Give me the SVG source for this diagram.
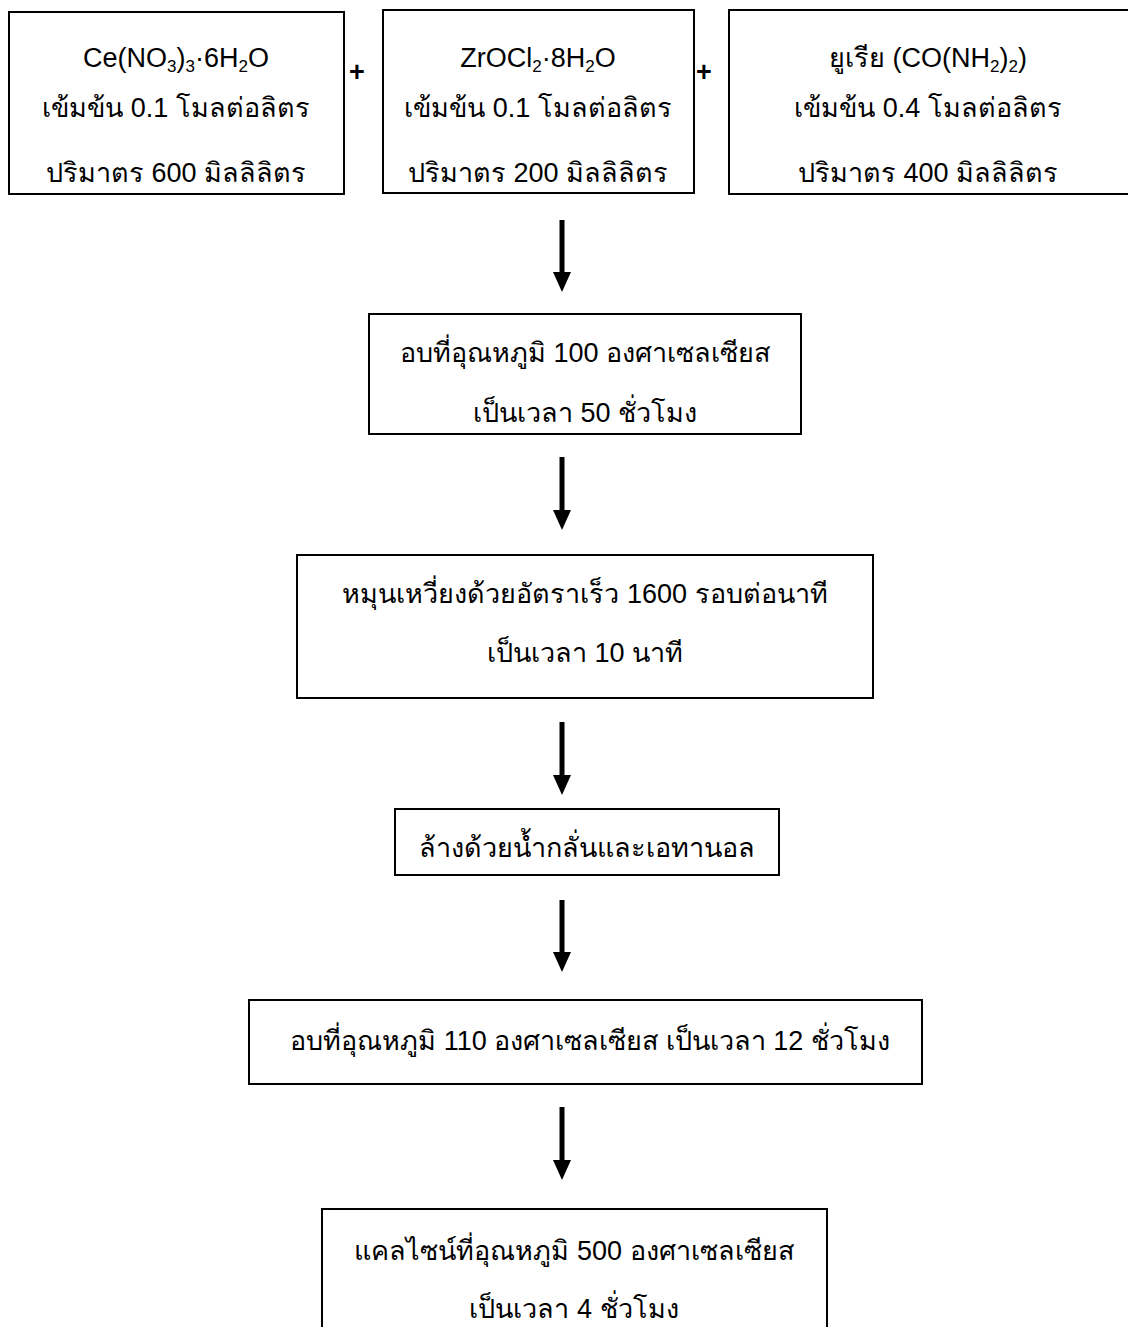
<svg xmlns="http://www.w3.org/2000/svg" width="1128" height="1327" viewBox="0 0 1128 1327">
<style>
.box{fill:#fff;stroke:#000;stroke-width:2}
.t{font-family:"Liberation Sans","Noto Sans",sans-serif;font-size:27px;fill:#000;text-anchor:middle}
.sub{font-size:17px}
.plus{font-family:"Liberation Sans",sans-serif;font-size:27px;font-weight:bold;fill:#000;text-anchor:middle}
.arr{stroke:#000;stroke-width:5;fill:none}
</style>
<rect width="1128" height="1327" fill="#fff"/>
<g id="n1">
<rect class="box" x="9" y="12" width="335" height="182"/>
<text class="t" x="176" y="67">Ce(NO<tspan class="sub" dy="5">3</tspan><tspan dy="-5">)</tspan><tspan class="sub" dy="5">3</tspan><tspan dy="-5">·6H</tspan><tspan class="sub" dy="5">2</tspan><tspan dy="-5">O</tspan></text>
<text class="t" x="176" y="117">เข้มข้น 0.1 โมลต่อลิตร</text>
<text class="t" x="176" y="182">ปริมาตร 600 มิลลิลิตร</text>
</g>
<text class="plus" x="357" y="81">+</text>
<g id="n2">
<rect class="box" x="383" y="10" width="311" height="183"/>
<text class="t" x="538" y="67">ZrOCl<tspan class="sub" dy="5">2</tspan><tspan dy="-5">·8H</tspan><tspan class="sub" dy="5">2</tspan><tspan dy="-5">O</tspan></text>
<text class="t" x="538" y="117">เข้มข้น 0.1 โมลต่อลิตร</text>
<text class="t" x="538" y="182">ปริมาตร 200 มิลลิลิตร</text>
</g>
<text class="plus" x="704" y="81">+</text>
<g id="n3">
<rect class="box" x="729" y="10" width="402" height="184"/>
<text class="t" x="928" y="67">ยูเรีย (CO(NH<tspan class="sub" dy="5">2</tspan><tspan dy="-5">)</tspan><tspan class="sub" dy="5">2</tspan><tspan dy="-5">)</tspan></text>
<text class="t" x="928" y="117">เข้มข้น 0.4 โมลต่อลิตร</text>
<text class="t" x="928" y="182">ปริมาตร 400 มิลลิลิตร</text>
</g>
<g id="n4">
<rect class="box" x="369" y="314" width="432" height="120"/>
<text class="t" x="585" y="362">อบที่อุณหภูมิ 100 องศาเซลเซียส</text>
<text class="t" x="585" y="422">เป็นเวลา 50 ชั่วโมง</text>
</g>
<g id="n5">
<rect class="box" x="297" y="555" width="576" height="143"/>
<text class="t" x="585" y="603">หมุนเหวี่ยงด้วยอัตราเร็ว 1600 รอบต่อนาที</text>
<text class="t" x="585" y="662">เป็นเวลา 10 นาที</text>
</g>
<g id="n6">
<rect class="box" x="395" y="809" width="384" height="66"/>
<text class="t" x="587" y="857">ล้างด้วยน้ำกลั่นและเอทานอล</text>
</g>
<g id="n7">
<rect class="box" x="249" y="1000" width="673" height="84"/>
<text class="t" x="590" y="1050">อบที่อุณหภูมิ 110 องศาเซลเซียส เป็นเวลา 12 ชั่วโมง</text>
</g>
<g id="n8">
<rect class="box" x="322" y="1209" width="505" height="130"/>
<text class="t" x="574" y="1260">แคลไซน์ที่อุณหภูมิ 500 องศาเซลเซียส</text>
<text class="t" x="574" y="1318">เป็นเวลา 4 ชั่วโมง</text>
</g>
<g id="connectors">
<line class="arr" x1="562" y1="220" x2="562" y2="274"/>
<path d="M553,272 L571,272 L562,292 Z"/>
<line class="arr" x1="562" y1="457" x2="562" y2="512"/>
<path d="M553,510 L571,510 L562,530 Z"/>
<line class="arr" x1="562" y1="722" x2="562" y2="777"/>
<path d="M553,775 L571,775 L562,795 Z"/>
<line class="arr" x1="562" y1="900" x2="562" y2="954"/>
<path d="M553,952 L571,952 L562,972 Z"/>
<line class="arr" x1="562" y1="1107" x2="562" y2="1162"/>
<path d="M553,1160 L571,1160 L562,1180 Z"/>
</g>
</svg>
